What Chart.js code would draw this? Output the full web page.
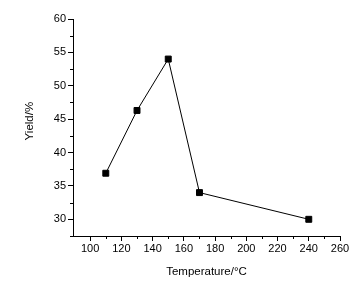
<!DOCTYPE html>
<html>
<head>
<meta charset="utf-8">
<script src="https://cdn.jsdelivr.net/npm/chart.js@4"></script>
<style>
  html, body { margin: 0; padding: 0; background: #fff; }
  #wrap { width: 360px; height: 283px; }
</style>
</head>
<body>
<div id="wrap"><canvas id="c" width="360" height="283"></canvas></div>
<script>
// ===== DATA =====
const temperatures = [110, 130, 150, 170, 240];
const yields = [36.9, 46.3, 54.0, 34.0, 30.0];
const xTicks = [100, 120, 140, 160, 180, 200, 220, 240, 260];
const yTicks = [30, 35, 40, 45, 50, 55, 60];
const xMinor = [110, 130, 150, 170, 190, 210, 230, 250];
const yMinor = [27.5, 32.5, 37.5, 42.5, 47.5, 52.5, 57.5];

const FONT = "'Liberation Sans', Arial, sans-serif";

// small minor ticks, placed through the scales
const minorTicks = {
  id: "minorTicks",
  afterDraw(chart) {
    const ctx = chart.ctx;
    const xs = chart.scales.x, ys = chart.scales.y;
    const area = chart.chartArea;
    ctx.save();
    ctx.strokeStyle = "#000";
    ctx.lineWidth = 1;
    ctx.beginPath();
    xMinor.forEach(v => {
      const px = Math.round(xs.getPixelForValue(v)) + 0.5;
      ctx.moveTo(px, area.bottom);
      ctx.lineTo(px, area.bottom + 3);
    });
    yMinor.forEach(v => {
      const py = Math.round(ys.getPixelForValue(v)) + 0.5;
      ctx.moveTo(area.left, py);
      ctx.lineTo(area.left - 3, py);
    });
    ctx.stroke();
    ctx.restore();
  }
};

new Chart(document.getElementById("c"), {
  type: "scatter",
  data: {
    datasets: [{
      data: temperatures.map((t, i) => ({ x: t, y: yields[i] })),
      showLine: true,
      borderColor: "#000",
      borderWidth: 1,
      backgroundColor: "#000",
      pointStyle: "rect",
      pointRadius: 4.2,
      pointHoverRadius: 4.2
    }]
  },
  options: {
    responsive: false,
    animation: false,
    events: [],
    layout: { padding: { left: 0, right: 20, top: 19, bottom: 0 } },
    plugins: { legend: { display: false }, tooltip: { enabled: false } },
    scales: {
      x: {
        type: "linear",
        min: 89,
        max: 260,
        afterFit(s) { s.height = 47; },
        afterBuildTicks(s) { s.ticks = xTicks.map(v => ({ value: v })); },
        grid: { drawOnChartArea: false, drawTicks: true, tickLength: 5, color: "#000" },
        border: { display: true, color: "#000", width: 1 },
        ticks: { color: "#000", font: { family: FONT, size: 11 }, padding: 1, maxRotation: 0 },
        title: { display: true, text: "Temperature/°C", color: "#000", font: { family: FONT, size: 11.5 }, padding: { top: 0, bottom: 4 } }
      },
      y: {
        type: "linear",
        min: 27.5,
        max: 60,
        afterFit(s) { s.width = 73; },
        afterBuildTicks(s) { s.ticks = yTicks.map(v => ({ value: v })); },
        grid: { drawOnChartArea: false, drawTicks: true, tickLength: 5, color: "#000" },
        border: { display: true, color: "#000", width: 1 },
        ticks: { color: "#000", font: { family: FONT, size: 11 }, padding: 2 },
        title: { display: true, text: "    Yield/%", color: "#000", font: { family: FONT, size: 11.5 }, padding: { top: 23, bottom: 0 } }
      }
    }
  },
  plugins: [minorTicks]
});
</script>
</body>
</html>
